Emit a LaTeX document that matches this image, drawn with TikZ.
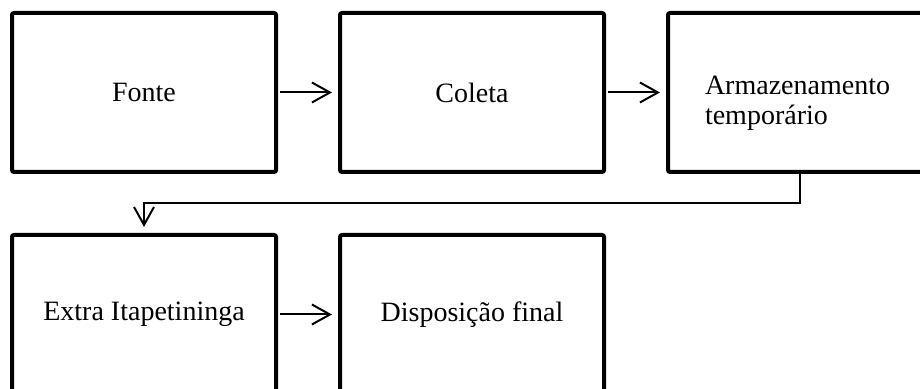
\documentclass[tikz,border=0pt]{standalone}
\usepackage{fontspec}
\setmainfont{Liberation Serif}
\usetikzlibrary{arrows.meta, positioning}

\tikzset{
  etapa/.style={draw, line width=2pt, rounded corners=1pt, minimum width=132pt,
    minimum height=79.5pt, outer sep=0pt, font=\fontsize{14}{15}\selectfont},
  fluxo/.style={-{Straight Barb[length=9pt,width=10pt]}, line width=1pt,
    shorten <=2pt, shorten >=4pt}
}

\begin{document}
\begin{tikzpicture}[node distance=31.5pt and 32pt]
\useasboundingbox (0,0) rectangle (460pt,194.5pt);
\clip (0,0) rectangle (460pt,194.5pt);
% first row
\node[etapa] (fonte) at (72pt,148.25pt) {Fonte};
\node[etapa, right=of fonte] (coleta) {Coleta};
\node[etapa, right=of coleta, align=left, text width=95pt, text height=19.5pt] (armazenamento) {Armazenamento\\temporário};
% second row
\node[etapa, below=of fonte] (extra) {Extra Itapetininga};
\node[etapa, right=of extra] (disposicao) {Disposição final};
% arrows
\draw[fluxo] (fonte) -- (coleta);
\draw[fluxo] (coleta) -- (armazenamento);
\draw[fluxo, shorten <=0pt] (armazenamento.south) -- ++(0,-15.75pt) -| (extra.north);
\draw[fluxo] (extra) -- (disposicao);
\end{tikzpicture}
\end{document}
